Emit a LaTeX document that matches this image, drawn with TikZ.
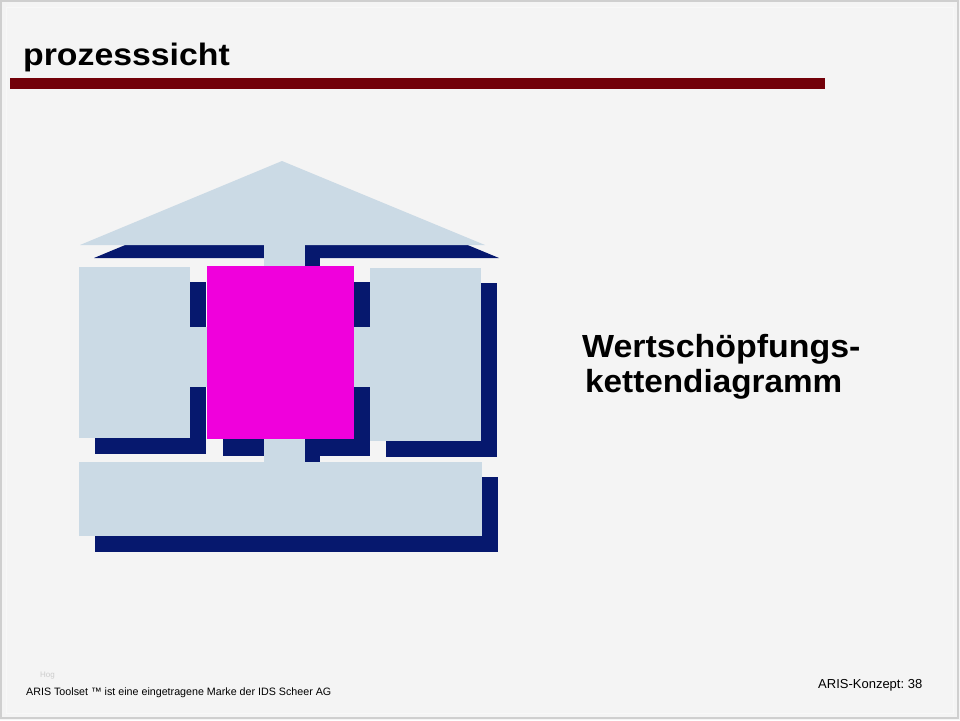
\documentclass[tikz,border=0pt]{standalone}
\usepackage{fontspec}
\setmainfont{Liberation Sans}
\definecolor{bgc}{HTML}{F4F4F4}
\definecolor{lblue}{HTML}{CBDAE5}
\definecolor{navy}{HTML}{06186E}
\definecolor{magen}{HTML}{F000DC}
\definecolor{dred}{HTML}{720009}
\definecolor{frame}{HTML}{CFCFCF}
\tikzset{
  shadowfill/.style={fill=navy, draw=none},
  bodyfill/.style={fill=lblue, draw=none},
  procfill/.style={fill=magen, draw=none},
  txt/.style={inner sep=0pt, anchor=base west, text=black},
}
\begin{document}
\begin{tikzpicture}[x=1pt,y=-1pt]
\useasboundingbox (0,0) rectangle (960,720);
\fill[bgc] (0,0) rectangle (960,720);
\draw[frame, line width=1.2pt] (1,1) rectangle (958,718);
\draw[white!85!frame, line width=0.8pt] (6,7) rectangle (953,713);
% title
\node[txt] (title) at (23,65) {\fontsize{31}{36}\selectfont\bfseries\scalebox{1.09}[1]{prozesssicht}};
\fill[dred] (10,78) rectangle (825,89);
% shadows
\fill[shadowfill] (94,258) -- (296,174) -- (499,258) -- cycle;
\fill[shadowfill] (279,258) rectangle (320,477);
\fill[shadowfill] (95,282) rectangle (206,454);
\fill[shadowfill] (223,282) rectangle (370,456);
\fill[shadowfill] (386,283) rectangle (497,457);
\fill[shadowfill] (95,477) rectangle (498,552);
% bodies
\fill[bodyfill] (80,245) -- (282,161) -- (485,245) -- cycle;
\fill[bodyfill] (264,244) rectangle (305,462);
\fill[bodyfill] (185,327) rectangle (375,387);
\fill[bodyfill] (79,267) rectangle (190,438);
\fill[bodyfill] (370,268) rectangle (481,441);
\fill[bodyfill] (79,462) rectangle (482,536);
\fill[procfill] (207,266) rectangle (354,439);
% labels
\node[txt] (l1) at (582,357) {\fontsize{32}{38}\selectfont\bfseries\scalebox{1.06}[1]{Wertschöpfungs-}};
\node[txt] (l2) at (585,392) {\fontsize{32}{38}\selectfont\bfseries\scalebox{1.04}[1]{kettendiagramm}};
% footer
\node[txt, text=black!20] (hog) at (40,677) {\fontsize{8}{9}\selectfont Hog};
\node[txt] (foot) at (26,695) {\fontsize{10.7}{13}\selectfont ARIS Toolset ™ ist eine eingetragene Marke der IDS Scheer AG};
\node[txt] (page) at (818,688) {\fontsize{13}{15}\selectfont ARIS-Konzept:\ 38};
\end{tikzpicture}
\end{document}
